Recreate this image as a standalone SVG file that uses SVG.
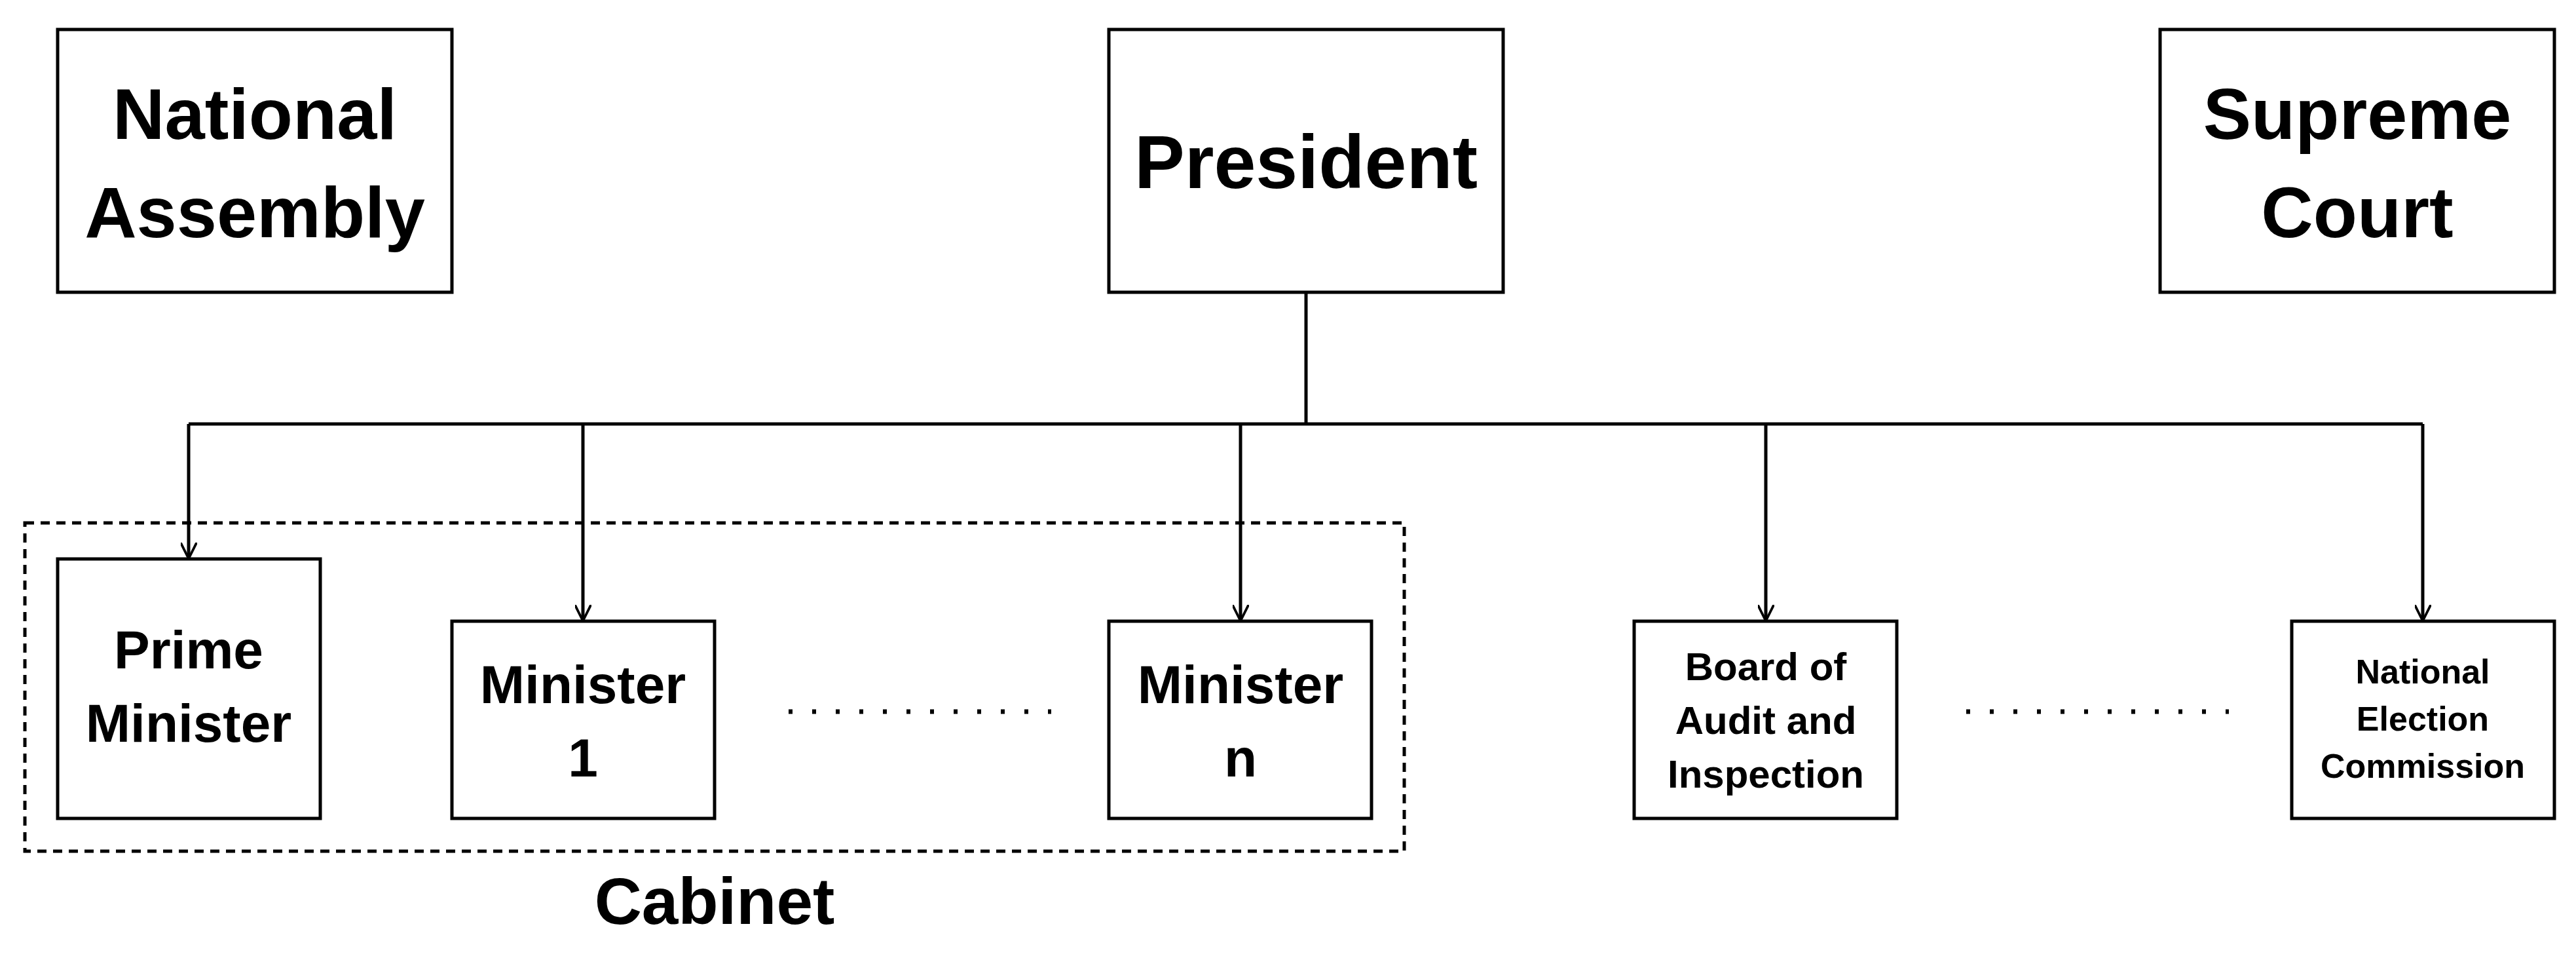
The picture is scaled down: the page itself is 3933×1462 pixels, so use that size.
<svg xmlns="http://www.w3.org/2000/svg" width="3933" height="1462" viewBox="0 0 3933 1462">
<style>
.b{fill:#fff;stroke:#000;stroke-width:5}
.t{font-family:"Liberation Sans",Arial,sans-serif;font-weight:bold;text-anchor:middle;fill:#000}
.c{fill:none;stroke:#000;stroke-width:5}
</style>
<defs><marker id="a" viewBox="0 0 10 10" refX="9" refY="5" markerWidth="5" markerHeight="5" orient="auto" markerUnits="strokeWidth"><path d="M0,0 L10,5 L0,10" fill="none" stroke="#000" stroke-width="1.5"/></marker></defs>
<rect width="3933" height="1462" fill="#fff"/>
<rect x="38" y="798" width="2106" height="501" fill="none" stroke="#000" stroke-width="5" stroke-dasharray="14,10"/>
<text class="t" x="1091" y="1410" font-size="100">Cabinet</text>
<g id="na"><rect class="b" x="88" y="45" width="602" height="401"/><text class="t" font-size="110" x="389" y="212">National</text><text class="t" font-size="110" x="389" y="362">Assembly</text></g>
<g id="pres"><rect class="b" x="1693" y="45" width="602" height="401"/><text class="t" font-size="115" x="1994" y="287">President</text></g>
<g id="sc"><rect class="b" x="3298" y="45" width="602" height="401"/><text class="t" font-size="110" x="3599" y="212">Supreme</text><text class="t" font-size="110" x="3599" y="362">Court</text></g>
<g id="pm"><rect class="b" x="88" y="853" width="401" height="396"/><text class="t" font-size="82" x="288" y="1020">Prime</text><text class="t" font-size="82" x="288" y="1132">Minister</text></g>
<g id="m1"><rect class="b" x="690" y="948" width="401" height="301"/><text class="t" font-size="82" x="890" y="1073">Minister</text><text class="t" font-size="82" x="890" y="1185">1</text></g>
<g id="mn"><rect class="b" x="1693" y="948" width="401" height="301"/><text class="t" font-size="82" x="1894" y="1073">Minister</text><text class="t" font-size="82" x="1894" y="1185">n</text></g>
<g id="bai"><rect class="b" x="2495" y="948" width="401" height="301"/><text class="t" font-size="60" x="2696" y="1038">Board of</text><text class="t" font-size="60" x="2696" y="1120">Audit and</text><text class="t" font-size="60" x="2696" y="1202">Inspection</text></g>
<g id="nec"><rect class="b" x="3499" y="948" width="401" height="301"/><text class="t" font-size="52" x="3699" y="1043">National</text><text class="t" font-size="52" x="3699" y="1115">Election</text><text class="t" font-size="52" x="3699" y="1187">Commission</text></g>
<g id="dots" stroke="#000" stroke-width="7" stroke-dasharray="6,30"><line x1="1204" y1="1086" x2="1605" y2="1086"/><line x1="3002" y1="1086" x2="3403" y2="1086"/></g>
<g id="connectors">
<path class="c" d="M1994,446 V647 M288,647 H3699"/>
<path class="c" marker-end="url(#a)" d="M288,647 V850"/>
<path class="c" marker-end="url(#a)" d="M890,647 V945"/>
<path class="c" marker-end="url(#a)" d="M1894,647 V945"/>
<path class="c" marker-end="url(#a)" d="M2696,647 V945"/>
<path class="c" marker-end="url(#a)" d="M3699,647 V945"/>
</g>
</svg>
